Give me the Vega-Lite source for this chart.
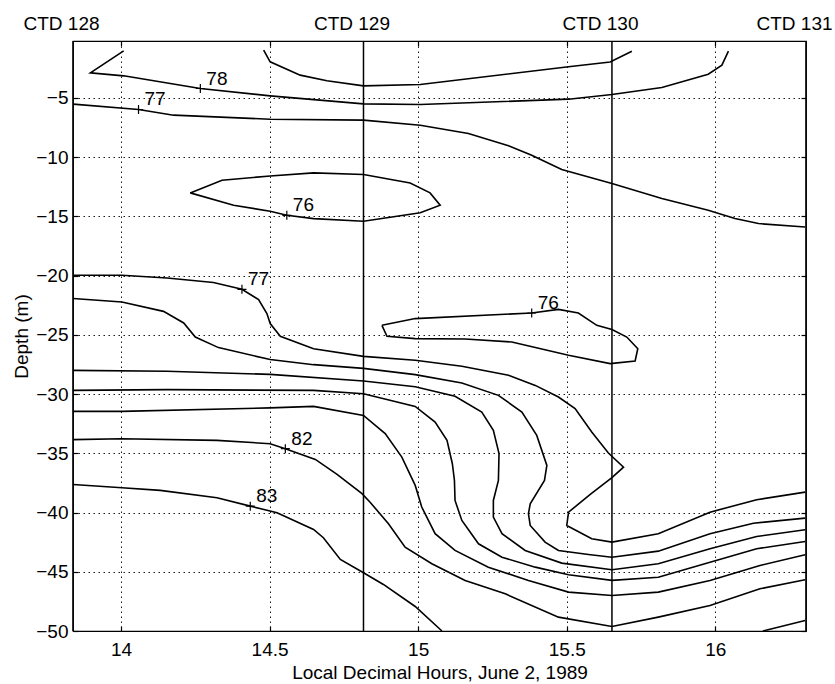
{
"$schema": "https://vega.github.io/schema/vega-lite/v6.json",
"width": 733, "height": 590,
"autosize": {"type": "none"},
"padding": {"left": 73, "top": 41, "right": 29, "bottom": 53},
"background": "white",
"config": {
  "view": {"stroke": "black", "strokeWidth": 1.2},
  "font": "Liberation Sans",
  "axis": {"labelFont": "Liberation Sans", "titleFont": "Liberation Sans", "labelFontSize": 19, "titleFontSize": 19, "labelColor": "black", "titleColor": "black", "titleFontWeight": "normal", "domain": false, "tickColor": "black", "labelFlush": false, "labelOverlap": false, "labelBound": false}
},
"datasets": {
  "ctd": [
    {"name": "CTD 128", "t": 13.8385},
    {"name": "CTD 129", "t": 14.816},
    {"name": "CTD 130", "t": 15.652},
    {"name": "CTD 131", "t": 16.305}
  ],
  "labels": [
    {"lev": "78", "t": 14.267, "d": -4.21},
    {"lev": "77", "t": 14.059, "d": -5.98},
    {"lev": "76", "t": 14.558, "d": -14.91},
    {"lev": "77", "t": 14.407, "d": -21.16},
    {"lev": "76", "t": 15.382, "d": -23.16},
    {"lev": "82", "t": 14.553, "d": -34.61},
    {"lev": "83", "t": 14.435, "d": -39.46}
  ],
  "contours": [
    {"c":"a","i":0,"t":14.480,"d":-0.97},{"c":"a","i":1,"t":14.502,"d":-1.96},{"c":"a","i":2,"t":14.603,"d":-3.08},{"c":"a","i":3,"t":14.693,"d":-3.56},{"c":"a","i":4,"t":14.816,"d":-3.99},{"c":"a","i":5,"t":15.007,"d":-3.87},{"c":"a","i":6,"t":15.506,"d":-2.38},{"c":"a","i":7,"t":15.646,"d":-1.98},{"c":"a","i":8,"t":15.719,"d":-1.06},
    {"c":"b","i":0,"t":14.009,"d":-1.03},{"c":"b","i":1,"t":13.897,"d":-2.89},{"c":"b","i":2,"t":14.009,"d":-3.14},{"c":"b","i":3,"t":14.267,"d":-4.21},{"c":"b","i":4,"t":14.502,"d":-4.83},{"c":"b","i":5,"t":14.816,"d":-5.51},{"c":"b","i":6,"t":15.007,"d":-5.56},{"c":"b","i":7,"t":15.506,"d":-5.11},{"c":"b","i":8,"t":15.652,"d":-4.71},{"c":"b","i":9,"t":15.820,"d":-4.12},{"c":"b","i":10,"t":15.976,"d":-3.00},{"c":"b","i":11,"t":16.022,"d":-2.24},{"c":"b","i":12,"t":16.044,"d":-1.06},
    {"c":"c","i":0,"t":13.839,"d":-5.53},{"c":"c","i":1,"t":14.059,"d":-5.98},{"c":"c","i":2,"t":14.177,"d":-6.46},{"c":"c","i":3,"t":14.502,"d":-6.80},{"c":"c","i":4,"t":14.816,"d":-6.88},{"c":"c","i":5,"t":15.007,"d":-7.31},{"c":"c","i":6,"t":15.169,"d":-8.01},{"c":"c","i":7,"t":15.304,"d":-9.05},{"c":"c","i":8,"t":15.382,"d":-9.84},{"c":"c","i":9,"t":15.483,"d":-11.05},{"c":"c","i":10,"t":15.652,"d":-12.23},{"c":"c","i":11,"t":15.820,"d":-13.50},{"c":"c","i":12,"t":15.976,"d":-14.48},{"c":"c","i":13,"t":16.066,"d":-15.19},{"c":"c","i":14,"t":16.145,"d":-15.61},{"c":"c","i":15,"t":16.302,"d":-15.90},
    {"c":"d","i":0,"t":14.233,"d":-13.02},{"c":"d","i":1,"t":14.340,"d":-11.95},{"c":"d","i":2,"t":14.502,"d":-11.59},{"c":"d","i":3,"t":14.648,"d":-11.33},{"c":"d","i":4,"t":14.816,"d":-11.47},{"c":"d","i":5,"t":14.973,"d":-12.18},{"c":"d","i":6,"t":15.040,"d":-13.02},{"c":"d","i":7,"t":15.074,"d":-14.06},{"c":"d","i":8,"t":15.007,"d":-14.70},{"c":"d","i":9,"t":14.816,"d":-15.41},{"c":"d","i":10,"t":14.648,"d":-15.19},{"c":"d","i":11,"t":14.558,"d":-14.91},{"c":"d","i":12,"t":14.502,"d":-14.57},{"c":"d","i":13,"t":14.379,"d":-14.06},{"c":"d","i":14,"t":14.233,"d":-13.02},
    {"c":"e","i":0,"t":13.839,"d":-19.97},{"c":"e","i":1,"t":14.003,"d":-19.97},{"c":"e","i":2,"t":14.155,"d":-20.20},{"c":"e","i":3,"t":14.311,"d":-20.59},{"c":"e","i":4,"t":14.407,"d":-21.16},{"c":"e","i":5,"t":14.463,"d":-22.03},{"c":"e","i":6,"t":14.491,"d":-23.21},{"c":"e","i":7,"t":14.502,"d":-24.05},{"c":"e","i":8,"t":14.536,"d":-25.13},{"c":"e","i":9,"t":14.648,"d":-26.17},{"c":"e","i":10,"t":14.816,"d":-26.82},{"c":"e","i":11,"t":14.990,"d":-27.15},{"c":"e","i":12,"t":15.147,"d":-27.66},{"c":"e","i":13,"t":15.304,"d":-28.42},{"c":"e","i":14,"t":15.394,"d":-29.27},{"c":"e","i":15,"t":15.472,"d":-30.25},{"c":"e","i":16,"t":15.528,"d":-31.23},{"c":"e","i":17,"t":15.584,"d":-33.21},{"c":"e","i":18,"t":15.640,"d":-34.98},{"c":"e","i":19,"t":15.691,"d":-36.17},{"c":"e","i":20,"t":15.652,"d":-37.06},{"c":"e","i":21,"t":15.579,"d":-38.47},{"c":"e","i":22,"t":15.506,"d":-39.97},{"c":"e","i":23,"t":15.500,"d":-41.09},{"c":"e","i":24,"t":15.584,"d":-42.21},{"c":"e","i":25,"t":15.652,"d":-42.50},{"c":"e","i":26,"t":15.808,"d":-41.79},{"c":"e","i":27,"t":15.982,"d":-39.97},{"c":"e","i":28,"t":16.139,"d":-38.92},{"c":"e","i":29,"t":16.302,"d":-38.28},
    {"c":"f","i":0,"t":13.839,"d":-21.94},{"c":"f","i":1,"t":14.003,"d":-22.23},{"c":"f","i":2,"t":14.143,"d":-23.02},{"c":"f","i":3,"t":14.211,"d":-24.00},{"c":"f","i":4,"t":14.250,"d":-25.19},{"c":"f","i":5,"t":14.328,"d":-26.08},{"c":"f","i":6,"t":14.502,"d":-27.09},{"c":"f","i":7,"t":14.648,"d":-27.52},{"c":"f","i":8,"t":14.816,"d":-27.83},{"c":"f","i":9,"t":14.990,"d":-28.36},{"c":"f","i":10,"t":15.147,"d":-29.07},{"c":"f","i":11,"t":15.270,"d":-30.11},{"c":"f","i":12,"t":15.349,"d":-31.52},{"c":"f","i":13,"t":15.399,"d":-33.49},{"c":"f","i":14,"t":15.433,"d":-36.02},{"c":"f","i":15,"t":15.425,"d":-37.29},{"c":"f","i":16,"t":15.377,"d":-39.26},{"c":"f","i":17,"t":15.371,"d":-40.10},{"c":"f","i":18,"t":15.377,"d":-41.09},{"c":"f","i":19,"t":15.427,"d":-42.50},{"c":"f","i":20,"t":15.472,"d":-43.20},{"c":"f","i":21,"t":15.573,"d":-43.54},{"c":"f","i":22,"t":15.652,"d":-43.77},{"c":"f","i":23,"t":15.808,"d":-43.26},{"c":"f","i":24,"t":15.982,"d":-41.79},{"c":"f","i":25,"t":16.128,"d":-40.90},{"c":"f","i":26,"t":16.302,"d":-40.47},
    {"c":"g","i":0,"t":13.839,"d":-28.00},{"c":"g","i":1,"t":14.155,"d":-28.08},{"c":"g","i":2,"t":14.502,"d":-28.34},{"c":"g","i":3,"t":14.816,"d":-28.90},{"c":"g","i":4,"t":14.990,"d":-29.39},{"c":"g","i":5,"t":15.124,"d":-30.19},{"c":"g","i":6,"t":15.214,"d":-31.52},{"c":"g","i":7,"t":15.253,"d":-33.07},{"c":"g","i":8,"t":15.272,"d":-35.03},{"c":"g","i":9,"t":15.270,"d":-37.29},{"c":"g","i":10,"t":15.253,"d":-38.98},{"c":"g","i":11,"t":15.253,"d":-40.39},{"c":"g","i":12,"t":15.282,"d":-41.79},{"c":"g","i":13,"t":15.360,"d":-43.20},{"c":"g","i":14,"t":15.483,"d":-44.27},{"c":"g","i":15,"t":15.652,"d":-44.83},{"c":"g","i":16,"t":15.808,"d":-44.32},{"c":"g","i":17,"t":15.982,"d":-43.06},{"c":"g","i":18,"t":16.139,"d":-42.02},{"c":"g","i":19,"t":16.302,"d":-41.45},
    {"c":"h","i":0,"t":13.839,"d":-29.69},{"c":"h","i":1,"t":14.155,"d":-29.63},{"c":"h","i":2,"t":14.648,"d":-29.69},{"c":"h","i":3,"t":14.816,"d":-29.97},{"c":"h","i":4,"t":14.990,"d":-31.04},{"c":"h","i":5,"t":15.057,"d":-32.36},{"c":"h","i":6,"t":15.097,"d":-33.91},{"c":"h","i":7,"t":15.115,"d":-35.88},{"c":"h","i":8,"t":15.122,"d":-37.29},{"c":"h","i":9,"t":15.124,"d":-38.98},{"c":"h","i":10,"t":15.147,"d":-40.67},{"c":"h","i":11,"t":15.203,"d":-42.64},{"c":"h","i":12,"t":15.282,"d":-43.77},{"c":"h","i":13,"t":15.394,"d":-44.61},{"c":"h","i":14,"t":15.506,"d":-45.25},{"c":"h","i":15,"t":15.652,"d":-45.73},{"c":"h","i":16,"t":15.808,"d":-45.46},{"c":"h","i":17,"t":15.982,"d":-44.19},{"c":"h","i":18,"t":16.139,"d":-43.06},{"c":"h","i":19,"t":16.302,"d":-42.44},
    {"c":"i","i":0,"t":13.839,"d":-31.46},{"c":"i","i":1,"t":14.003,"d":-31.46},{"c":"i","i":2,"t":14.502,"d":-31.17},{"c":"i","i":3,"t":14.648,"d":-31.04},{"c":"i","i":4,"t":14.816,"d":-31.80},{"c":"i","i":5,"t":14.889,"d":-33.34},{"c":"i","i":6,"t":14.945,"d":-35.32},{"c":"i","i":7,"t":14.990,"d":-37.71},{"c":"i","i":8,"t":15.012,"d":-39.54},{"c":"i","i":9,"t":15.057,"d":-41.79},{"c":"i","i":10,"t":15.124,"d":-43.20},{"c":"i","i":11,"t":15.236,"d":-44.61},{"c":"i","i":12,"t":15.371,"d":-45.73},{"c":"i","i":13,"t":15.506,"d":-46.72},{"c":"i","i":14,"t":15.652,"d":-47.00},{"c":"i","i":15,"t":15.808,"d":-46.72},{"c":"i","i":16,"t":15.982,"d":-45.73},{"c":"i","i":17,"t":16.150,"d":-44.47},{"c":"i","i":18,"t":16.302,"d":-43.56},
    {"c":"j","i":0,"t":13.839,"d":-33.85},{"c":"j","i":1,"t":14.003,"d":-33.77},{"c":"j","i":2,"t":14.323,"d":-33.91},{"c":"j","i":3,"t":14.502,"d":-34.19},{"c":"j","i":4,"t":14.553,"d":-34.61},{"c":"j","i":5,"t":14.654,"d":-35.52},{"c":"j","i":6,"t":14.727,"d":-36.78},{"c":"j","i":7,"t":14.811,"d":-38.41},{"c":"j","i":8,"t":14.839,"d":-39.15},{"c":"j","i":9,"t":14.900,"d":-40.95},{"c":"j","i":10,"t":14.956,"d":-42.92},{"c":"j","i":11,"t":15.046,"d":-44.32},{"c":"j","i":12,"t":15.158,"d":-45.73},{"c":"j","i":13,"t":15.293,"d":-46.86},{"c":"j","i":14,"t":15.472,"d":-48.83},{"c":"j","i":15,"t":15.652,"d":-49.62},{"c":"j","i":16,"t":15.808,"d":-48.83},{"c":"j","i":17,"t":15.982,"d":-47.85},{"c":"j","i":18,"t":16.150,"d":-46.44},{"c":"j","i":19,"t":16.302,"d":-45.68},
    {"c":"k","i":0,"t":13.839,"d":-37.63},{"c":"k","i":1,"t":14.003,"d":-37.91},{"c":"k","i":2,"t":14.132,"d":-38.13},{"c":"k","i":3,"t":14.323,"d":-38.75},{"c":"k","i":4,"t":14.435,"d":-39.46},{"c":"k","i":5,"t":14.525,"d":-40.02},{"c":"k","i":6,"t":14.648,"d":-41.43},{"c":"k","i":7,"t":14.681,"d":-42.13},{"c":"k","i":8,"t":14.738,"d":-43.96},{"c":"k","i":9,"t":14.816,"d":-45.08},{"c":"k","i":10,"t":14.883,"d":-46.07},{"c":"k","i":11,"t":14.990,"d":-47.93},{"c":"k","i":12,"t":15.080,"d":-50.0},
    {"c":"l","i":0,"t":16.160,"d":-50.0},{"c":"l","i":1,"t":16.302,"d":-49.11},
    {"c":"m","i":0,"t":14.878,"d":-24.20},{"c":"m","i":1,"t":14.990,"d":-23.63},{"c":"m","i":2,"t":15.382,"d":-23.16},{"c":"m","i":3,"t":15.472,"d":-22.85},{"c":"m","i":4,"t":15.539,"d":-23.16},{"c":"m","i":5,"t":15.601,"d":-24.20},{"c":"m","i":6,"t":15.652,"d":-24.56},{"c":"m","i":7,"t":15.702,"d":-25.19},{"c":"m","i":8,"t":15.739,"d":-26.17},{"c":"m","i":9,"t":15.730,"d":-27.21},{"c":"m","i":10,"t":15.646,"d":-27.43},{"c":"m","i":11,"t":15.506,"d":-26.73},{"c":"m","i":12,"t":15.315,"d":-25.61},{"c":"m","i":13,"t":15.158,"d":-25.35},{"c":"m","i":14,"t":14.990,"d":-25.32},{"c":"m","i":15,"t":14.895,"d":-25.13},{"c":"m","i":16,"t":14.878,"d":-24.20}
  ]
},
"layer": [
  {
    "data": {"name": "contours"},
    "mark": {"type": "line", "color": "black", "strokeWidth": 1.6},
    "encoding": {
      "x": {"field": "t", "type": "quantitative", "scale": {"domain": [13.8385, 16.305], "nice": false, "zero": false},
        "axis": {"orient": "bottom", "values": [14, 14.5, 15, 15.5, 16], "format": "~g", "title": "Local Decimal Hours, June 2, 1989", "grid": true, "gridDash": [1.5, 3.5], "gridColor": "black", "gridWidth": 1, "gridOpacity": 0.9, "tickSize": -5, "tickWidth": 1.2, "labelPadding": 14, "titlePadding": 4}},
      "y": {"field": "d", "type": "quantitative", "scale": {"domain": [-50, -0.2], "nice": false, "zero": false},
        "axis": {"orient": "left", "values": [-5, -10, -15, -20, -25, -30, -35, -40, -45, -50], "format": "~g", "title": "Depth (m)", "grid": true, "gridDash": [1.5, 3.5], "gridColor": "black", "gridWidth": 1, "gridOpacity": 0.9, "tickSize": -5, "tickWidth": 1.2, "labelPadding": 10, "titlePadding": 4}},
      "detail": {"field": "c"},
      "order": {"field": "i", "type": "quantitative"}
    }
  },
  {
    "data": {"name": "ctd"},
    "mark": {"type": "rule", "color": "black", "strokeWidth": 1.5},
    "encoding": {
      "x": {"field": "t", "type": "quantitative", "scale": {"domain": [13.8385, 16.305], "nice": false, "zero": false},
        "axis": {"orient": "top", "values": [13.8385, 14.816, 15.652, 16.305], "labelExpr": "datum.value < 14 ? 'CTD 128' : datum.value < 15.2 ? 'CTD 129' : datum.value < 16.1 ? 'CTD 130' : 'CTD 131'", "ticks": false, "tickSize": 0, "grid": false, "title": null, "labelPadding": 8, "labelOffset": -12}}
    }
  },
  {
    "data": {"name": "labels"},
    "mark": {"type": "text", "align": "left", "baseline": "alphabetic", "dx": 6, "dy": -4, "fontSize": 19, "font": "Liberation Sans", "color": "black"},
    "encoding": {
      "x": {"field": "t", "type": "quantitative", "scale": {"domain": [13.8385, 16.305], "nice": false, "zero": false},
        "axis": {"orient": "top", "values": [14, 14.5, 15, 15.5, 16], "labels": false, "grid": false, "title": null, "tickSize": -5, "tickWidth": 1.2}},
      "y": {"field": "d", "type": "quantitative", "scale": {"domain": [-50, -0.2], "nice": false, "zero": false},
        "axis": {"orient": "right", "values": [-5, -10, -15, -20, -25, -30, -35, -40, -45, -50], "labels": false, "grid": false, "title": null, "tickSize": -5, "tickWidth": 1.2}},
      "text": {"field": "lev"}
    }
  },
  {
    "data": {"name": "labels"},
    "mark": {"type": "point", "shape": "M-1,0L1,0M0,-1L0,1", "size": 81, "filled": false, "color": "black", "strokeWidth": 1.2, "opacity": 1},
    "encoding": {
      "x": {"field": "t", "type": "quantitative", "scale": {"domain": [13.8385, 16.305], "nice": false, "zero": false}, "axis": null},
      "y": {"field": "d", "type": "quantitative", "scale": {"domain": [-50, -0.2], "nice": false, "zero": false}, "axis": null}
    }
  }
],
"resolve": {"axis": {"x": "independent", "y": "independent"}}
}
